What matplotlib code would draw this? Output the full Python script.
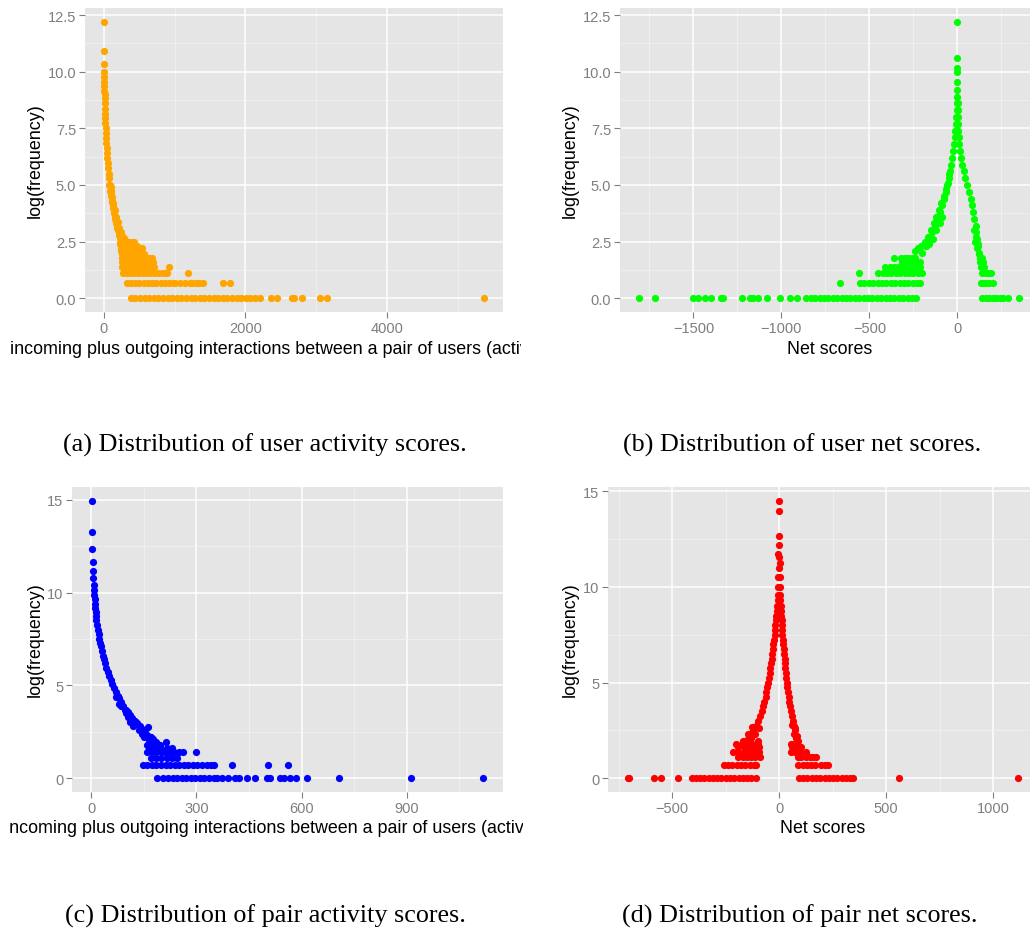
import numpy as np
import matplotlib
matplotlib.use("Agg")
import matplotlib.pyplot as plt
from matplotlib.transforms import Bbox, TransformedBbox

plt.rcParams['font.family'] = ['Liberation Sans', 'DejaVu Sans']

# ---------------- data ----------------
# (a) user activity scores: log(frequency) vs activity
a_curve_x = [1, 2, 3, 4, 5, 6, 7, 8, 9, 10, 12, 14, 16, 18, 20, 23, 26, 30, 34, 38, 43, 48,
             54, 60, 67, 75, 85, 95, 105, 118, 130, 145, 160, 175, 190, 210, 230, 250]
a_curve_y = [12.2, 10.9, 10.35, 10.0, 9.75, 9.55, 9.35, 9.15, 9.0, 8.85, 8.6, 8.35, 8.15, 7.95,
             7.75, 7.5, 7.3, 7.05, 6.85, 6.65, 6.4, 6.2, 5.95, 5.75, 5.5, 5.3, 5.0, 4.75, 4.5,
             4.25, 4.0, 3.75, 3.5, 3.3, 3.1, 2.9, 2.7, 2.5]
a_spread_x = [75, 85, 100, 110, 125, 140, 150, 165, 180, 195, 210, 225, 245, 270, 300,
              95, 120, 135, 160, 175, 200, 215, 235, 260, 285]
a_spread_y = [5.0, 4.75, 4.6, 4.3, 4.1, 3.8, 3.6, 3.4, 3.2, 3.0, 2.8, 2.7, 2.6, 2.6, 2.56,
              4.9, 4.45, 4.2, 3.9, 3.6, 3.35, 3.1, 2.9, 2.75, 2.65]
a_row_y = [2.48, 2.40, 2.30, 2.20, 2.08, 1.95, 1.79, 1.61, 1.39, 1.10, 0.69, 0.0]
a_row_x = [
    [225, 260, 300, 340, 380, 420],
    [230, 265, 305, 345, 385, 430],
    [235, 270, 310, 350, 390, 430, 470],
    [240, 280, 320, 360, 400, 440, 480, 533],
    [245, 285, 325, 365, 405, 445, 510],
    [250, 290, 330, 370, 410, 450, 490, 560],
    [255, 295, 335, 375, 415, 455, 495, 535, 575, 610, 640, 675],
    [255, 300, 345, 390, 435, 480, 525, 570, 610, 650, 690],
    [260, 305, 350, 395, 440, 485, 530, 575, 620, 660, 705, 920],
    [268, 320, 375, 430, 485, 540, 595, 650, 705, 760, 815, 860, 890, 1184],
    [320, 380, 440, 500, 560, 620, 680, 740, 800, 860, 920, 980, 1005, 1075, 1140, 1217,
     1240, 1300, 1350, 1395, 1680, 1783],
    [382, 445, 510, 575, 640, 705, 770, 835, 900, 965, 1030, 1095, 1160, 1225, 1290, 1355,
     1420, 1485, 1550, 1615, 1680, 1745, 1810, 1875, 1940, 2005, 2070, 2140, 2207, 2358,
     2443, 2664, 2693, 2797, 3057, 3151, 5372],
]

# (b) user net scores
b_peak_x = [0, 0, 0, 0, 0, 0, 0]
b_peak_y = [12.2, 10.6, 10.15, 10.0, 9.55, 9.2, 8.9]
b_left_x = [-2, -4, -6, -9, -12, -15, -19, -23, -28, -34, -41, -49, -58, -67, -77, -88, -100,
            -115, -130, -146, -162, -180, -200]
b_left_y = [8.6, 8.3, 8.0, 7.7, 7.4, 7.1, 6.8, 6.5, 6.2, 5.9, 5.6, 5.3, 5.0, 4.7, 4.4, 4.1,
            3.8, 3.5, 3.2, 2.9, 2.6, 2.3, 2.0]
b_right_x = [1, 2, 3, 4, 6, 8, 11, 15, 20, 27, 35, 45, 57, 68, 78, 85, 91, 97, 103, 108, 113,
             118, 123]
b_right_y = b_left_y
b_spread_x = [-45, -55, -65, -78, -92, -105, -120, -135, -150, -165, -185, -205, -225, -240,
              -120, -100, -85, -140, -160, -180,
              95, 105, 115, 100, 110, 120, 128, 140, 130, 145, 135, 150]
b_spread_y = [5.5, 5.1, 4.8, 4.5, 4.2, 3.9, 3.6, 3.3, 3.0, 2.7, 2.48, 2.3, 2.2, 2.08,
              3.0, 3.3, 3.6, 2.6, 2.4, 2.3,
              3.0, 2.7, 2.4, 2.48, 2.2, 1.95, 1.79, 1.79, 1.61, 1.61, 1.39, 1.39]
b_row_y = [1.79, 1.61, 1.39, 1.10, 0.69, 0.0]
b_row_x = [
    [-358, -320, -300, -280, -260, -240],
    [-316, -295, -275, -255, -235, -215],
    [-410, -385, -360, -335, -310, -285, -260, -235, -210],
    [-557, -450, -425, -400, -375, -350, -325, -300, -275, -250, -225, -200, 139, 160, 180, 190],
    [-668, -553, -528, -503, -478, -453, -428, -403, -378, -353, -328, -303, -278, -253, -228,
     -211, 135, 150, 165, 180, 200],
    [-1809, -1718, -1505, -1476, -1432, -1400, -1343, -1330, -1223, -1181, -1162, -1134, -1080,
     -1006, -949, -911, -858, -833, -808, -783, -758, -733, -708, -683, -658, -633, -608, -583,
     -558, -533, -508, -483, -458, -433, -408, -383, -358, -333, -308, -283, -258, -233,
     139, 160, 180, 200, 220, 240, 260, 285, 350],
]

# (c) pair activity scores
c_curve_x = [1, 2, 3, 4, 5, 6, 7, 8, 9, 10, 11, 12, 13, 14, 15, 17, 19, 21, 23, 25, 27, 30, 33,
             36, 39, 43, 47, 51, 55, 60, 65, 70, 75, 80, 86, 92, 98, 104, 110, 117, 124, 131,
             138, 145, 152, 160, 168, 176, 185]
c_curve_y = [14.95, 13.25, 12.33, 11.68, 11.17, 10.78, 10.42, 10.15, 9.9, 9.65, 9.4, 9.15, 8.95,
             8.75, 8.55, 8.25, 8.0, 7.75, 7.5, 7.3, 7.1, 6.85, 6.6, 6.4, 6.2, 5.95, 5.7, 5.5,
             5.3, 5.05, 4.85, 4.65, 4.45, 4.3, 4.1, 3.9, 3.7, 3.55, 3.4, 3.25, 3.1, 2.95, 2.8,
             2.65, 2.5, 2.35, 2.2, 2.1, 1.95]
c_spread_x = [70, 80, 85, 95, 100, 105, 110, 115, 120, 130, 135, 140, 163, 145, 150, 155, 165,
              170, 175, 213]
c_spread_y = [4.4, 4.0, 3.9, 3.7, 3.5, 3.3, 3.0, 3.1, 2.8, 2.9, 2.6, 2.7, 2.77, 2.4, 2.2, 2.3,
              2.08, 2.2, 1.95, 1.95]
c_row_y = [1.79, 1.61, 1.39, 1.10, 0.69, 0.0]
c_row_x = [
    [160, 180, 195],
    [165, 180, 195, 215, 230],
    [159, 172, 185, 198, 211, 224, 237, 250, 263, 300],
    [170, 185, 200, 215, 230, 245],
    [147, 160, 173, 186, 199, 212, 225, 238, 251, 264, 277, 290, 303, 316, 329, 342, 349, 402,
     503, 560],
    [189, 206, 219, 232, 245, 258, 271, 284, 297, 310, 323, 336, 349, 358, 373, 389, 411, 423,
     444, 466, 501, 509, 539, 550, 566, 584, 617, 707, 912, 1119],
]

# (d) pair net scores
d_peak_x = [0, 1, -1, 2, -3, -2, 3, 0, -4, 4, -4, 4, -6, 6]
d_peak_y = [14.5, 13.95, 12.65, 12.2, 11.7, 11.55, 11.25, 10.97, 10.5, 10.5, 10.0, 10.0, 9.6, 9.6]
d_branch_y = [9.3, 9.0, 8.75, 8.5, 8.25, 8.0, 7.75, 7.5, 7.25, 7.0, 6.75, 6.5, 6.25, 6.0, 5.75,
              5.5, 5.25, 5.0, 4.75, 4.5, 4.25, 4.0, 3.75, 3.5, 3.25, 3.0, 2.75, 2.5, 2.2]
d_left_x = [-7, -9, -11, -13, -15, -17, -19, -21, -24, -26, -29, -31, -34, -37, -40, -43, -46,
            -50, -54, -59, -63, -68, -73, -79, -88, -99, -109, -120, -135]
d_right_x = [6, 7, 9, 10, 12, 13, 15, 16, 18, 20, 22, 24, 26, 28, 30, 32, 34, 36, 39, 42, 45,
             48, 51, 55, 59, 64, 69, 75, 85]
d_spread_x = [-95, -110, -125, -132, -145, -150, -130, -100, -170, 60, 70, 80, 90, 75]
d_spread_y = [2.6, 2.3, 2.7, 2.3, 2.3, 2.0, 2.08, 1.95, 1.95, 2.8, 2.3, 2.1, 1.95, 2.6]
d_row_y = [1.79, 1.61, 1.39, 1.10, 0.69, 0.0]
d_row_x = [
    [-199, -175, -150, -125, -100, 55, 70, 85],
    [-190, -165, -140, -115, -95, 60, 80, 95, 105],
    [-215, -190, -165, -140, -115, -95, 58, 75, 90, 100, 125],
    [-193, -170, -150, -130, -110, -90, 87, 105, 125, 145, 160, 175],
    [-258, -238, -218, -198, -178, -158, -138, -118, -109, 90, 110, 130, 150, 168, 198, 215, 230],
    [-708, -700, -585, -552, -473, -409, -389, -369, -349, -329, -309, -289, -269, -249, -229,
     -209, -189, -169, -149, -129, -109, 93, 113, 133, 153, 173, 193, 213, 233, 253, 273, 293,
     313, 333, 346, 559, 1119],
]

x_label_activity = "incoming plus outgoing interactions between a pair of users (activity scores)"
captions = ["(a) Distribution of user activity scores.",
            "(b) Distribution of user net scores.",
            "(c) Distribution of pair activity scores.",
            "(d) Distribution of pair net scores."]

# ---------------- drawing ----------------
W, H = 1030, 937
fig = plt.figure(figsize=(W / 100, H / 100), dpi=100)


def px_rect(x0, y0, x1, y1):
    return [x0 / W, 1 - y1 / H, (x1 - x0) / W, (y1 - y0) / H]


def gather(pairs, row_x, row_y):
    xs, ys = [], []
    for px_, py_ in pairs:
        xs += list(px_)
        ys += list(py_)
    for rx, ry in zip(row_x, row_y):
        xs += list(rx)
        ys += [ry] * len(rx)
    return np.array(xs, float), np.array(ys, float)


def panel(rect, xs, ys, color, xmaj, xlab, xmin, ymaj, ylab, ymin):
    ax = fig.add_axes(px_rect(*rect))
    ax.set_facecolor('#E5E5E5')
    for s in ax.spines.values():
        s.set_visible(False)
    ax.scatter(xs, ys, s=27, c=color, linewidths=0, zorder=3)
    dx = (xs.max() - xs.min()) * 0.05
    dy = (ys.max() - ys.min()) * 0.05
    ax.set_xlim(xs.min() - dx, xs.max() + dx)
    ax.set_ylim(ys.min() - dy, ys.max() + dy)
    ax.set_xticks(xmaj, xlab)
    ax.set_xticks(xmin, minor=True)
    ax.set_yticks(ymaj, ylab)
    ax.set_yticks(ymin, minor=True)
    ax.grid(which='major', color='white', lw=1.1)
    ax.grid(which='minor', color='#F2F2F2', lw=0.55)
    ax.set_axisbelow(True)
    ax.tick_params(which='major', length=4.3, width=0.8, color='#7F7F7F',
                   labelcolor='#7F7F7F', labelsize=10.5, pad=2)
    ax.tick_params(which='minor', length=0)
    return ax


y125 = [0, 2.5, 5, 7.5, 10, 12.5]
y125_lab = ["0.0", "2.5", "5.0", "7.5", "10.0", "12.5"]
y125_min = [1.25, 3.75, 6.25, 8.75, 11.25]
y15 = [0, 5, 10, 15]
y15_lab = ["0", "5", "10", "15"]
y15_min = [2.5, 7.5, 12.5]

xa, ya = gather([(a_curve_x, a_curve_y), (a_spread_x, a_spread_y)], a_row_x, a_row_y)
panel((85, 9, 503, 313), xa, ya, '#FFA500',
      [0, 2000, 4000], ["0", "2000", "4000"], [1000, 3000, 5000], y125, y125_lab, y125_min)

xb, yb = gather([(b_peak_x, b_peak_y), (b_left_x, b_left_y), (b_right_x, b_right_y),
                 (b_spread_x, b_spread_y)], b_row_x, b_row_y)
panel((620, 9, 1038, 313), xb, yb, '#00FF00',
      [-1500, -1000, -500, 0], ["\u22121500", "\u22121000", "\u2212500", "0"],
      [-1750, -1250, -750, -250, 250], y125, y125_lab, y125_min)

xc, yc = gather([(c_curve_x, c_curve_y), (c_spread_x, c_spread_y)], c_row_x, c_row_y)
panel((72, 488, 503, 793), xc, yc, '#0000FF',
      [0, 300, 600, 900], ["0", "300", "600", "900"], [150, 450, 750, 1050], y15, y15_lab, y15_min)

xd, yd = gather([(d_peak_x, d_peak_y), (d_left_x, d_branch_y), (d_right_x, d_branch_y),
                 (d_spread_x, d_spread_y)], d_row_x, d_row_y)
panel((608, 488, 1038, 793), xd, yd, '#FF0000',
      [-500, 0, 500, 1000], ["\u2212500", "0", "500", "1000"], [-750, -250, 250, 750],
      y15, y15_lab, y15_min)


def ftext(x, y, s, **kw):
    return fig.text(x / W, 1 - y / H, s, **kw)


# axis titles
for (x, y) in [(35, 161), (570, 161), (35, 640), (570, 640)]:
    ftext(x, y, "log(frequency)", rotation=90, ha='center', va='center', fontsize=12.9)

ftext(830, 354, "Net scores", ha='center', va='baseline', fontsize=12.9)
ftext(823, 833, "Net scores", ha='center', va='baseline', fontsize=12.9)

for (x, y, left, right) in [(10, 354, 0, 521), (5, 833, 8.5, 523)]:
    t = ftext(x, y, x_label_activity, ha='left', va='baseline', fontsize=12.9)
    t.set_clip_on(True)
    t.set_clip_box(TransformedBbox(Bbox.from_extents(left / W, 0, right / W, 1), fig.transFigure))

# captions
for (x, y), cap in zip([(265, 452), (802, 452), (265, 923), (800, 923)], captions):
    ftext(x, y, cap, ha='center', va='baseline', fontsize=18.8,
          family=['Liberation Serif', 'DejaVu Serif'])

fig.savefig("out.png", dpi=100, facecolor='white')
